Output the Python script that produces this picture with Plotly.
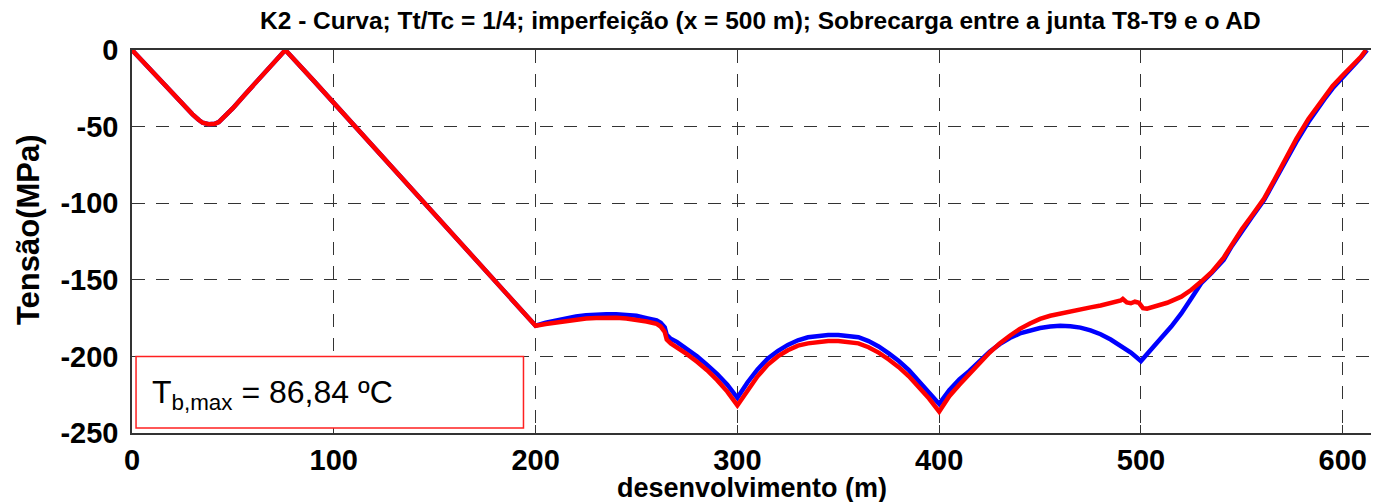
import plotly.graph_objects as go

# ---- data ----
x_common = [0, 5, 10, 15, 20, 25, 30, 33, 35, 38, 41, 43, 46, 50, 56, 61, 66, 71, 76,
            90, 100, 110, 120, 130, 140, 150, 160, 170, 180, 190, 200]
y_common = [0, -7, -14, -21.5, -28.5, -35.5, -42, -45.5, -47.5, -48.5, -48.2, -47, -43.5,
            -38, -29, -22, -14.5, -7, 0,
            -20, -34.5, -49, -63.5, -78, -92.5, -107, -121.5, -136, -151, -165.5, -180]

x_blue = [205, 210, 215, 220, 225, 230, 235, 240, 245, 250, 255, 260, 262, 264, 265, 267,
          270, 275, 280, 285, 290, 295, 300,
          305, 310, 315, 320, 325, 330, 335, 340, 345, 350, 355, 360, 365, 370, 375, 380,
          385, 390, 395, 400,
          405, 410, 415, 420, 425, 430, 435, 440, 445, 450, 455, 460, 465, 470, 475, 480,
          485, 490, 495, 500,
          505, 510, 515, 520, 525, 530, 535, 541, 545, 550, 555, 561, 566, 572, 577, 583,
          587, 591, 595, 600, 605, 609, 612]
y_blue = [-178, -176.5, -175, -174, -173.2, -172.7, -172.5, -172.5, -172.8, -173.5, -175,
          -176.5, -178, -181, -186, -188.5,
          -190.5, -195, -200, -205.5, -211.5, -218.5, -227,
          -217, -208.5, -201.5, -196.5, -192.5, -189.5, -187.5, -186.5, -186, -186, -186.5,
          -187.5, -190, -193.5, -198, -203, -209, -216, -223, -231,
          -222, -215, -209.5, -203, -197, -192, -188, -185, -183, -181.5, -180.5, -180,
          -180.3, -181.2, -183, -185.5, -189, -193, -197.5, -203,
          -195, -188, -180.5, -172, -162, -152, -145.5, -137, -128, -118, -109, -98, -86,
          -72, -60, -47, -39, -32, -25, -18, -11, -5, 0]

x_red = [205, 210, 215, 220, 225, 230, 235, 240, 245, 250, 255, 260, 262, 264, 265, 267,
         270, 275, 280, 285, 290, 295, 300,
         305, 310, 315, 320, 325, 330, 335, 340, 345, 350, 355, 360, 365, 370, 375, 380,
         385, 390, 395, 400,
         405, 410, 415, 420, 425, 430, 435, 440, 445, 450, 455, 460, 465, 470, 475, 480,
         485, 488, 490, 491, 493, 495, 497, 499, 501, 503, 507, 513, 520, 525, 530, 535,
         541, 545, 550, 555, 561, 566, 572, 577, 583, 587, 591, 595, 600, 605, 609, 611.5]
y_red = [-178.8, -177.8, -176.8, -176, -175.3, -175, -174.8, -174.8, -175.2, -176, -177.2,
         -178.8, -180.5, -184, -189, -191.5,
         -194, -198.5, -203.5, -209, -215.5, -223, -232,
         -222, -213, -205.5, -200, -196, -193, -191.5, -190.5, -190, -190, -190.5, -191.5,
         -194, -197.5, -202, -207, -213, -220, -227.5, -236,
         -226, -218.5, -211, -204.5, -197.5, -191.5, -186.5, -182, -178.5, -175.5, -173.5,
         -172, -170.5, -169.2, -168, -166.8,
         -165.5, -164.5, -163.5, -162.5, -164.8, -165.3, -164.3, -165, -168.5, -168.8,
         -167, -165, -161, -156.5, -151, -145,
         -135.5, -127, -117, -108, -97, -85, -70, -58, -45, -37.5, -30, -23.5, -16.5, -10,
         -4.5, 0]

x_ticks = [0, 100, 200, 300, 400, 500, 600]
y_ticks = [-250, -200, -150, -100, -50, 0]

title_text = "K2 - Curva; Tt/Tc = 1/4; imperfeição (x = 500 m); Sobrecarga entre a junta T8-T9 e o AD"
xlabel = "desenvolvimento (m)"
ylabel = "Tensão(MPa)"
box_text = "T<sub>b,max</sub> = 86,84 ºC"
box_x = [2, 194]
box_y = [-246.7, -200]

FONT = "Liberation Sans, Arial, Helvetica, sans-serif"

fig = go.Figure()
fig.add_trace(go.Scatter(x=x_common + x_blue, y=y_common + y_blue, mode="lines",
                         line=dict(color="#0000ff", width=4.5), showlegend=False))
fig.add_trace(go.Scatter(x=x_common + x_red, y=y_common + y_red, mode="lines",
                         line=dict(color="#ff0000", width=4.5), showlegend=False))

grid = dict(showgrid=True, gridcolor="#333333", gridwidth=1.4, griddash="13px,11px",
            zeroline=False, showline=True, linecolor="#333333", linewidth=1.5,
            ticks="inside", ticklen=8, tickcolor="#333333", tickwidth=1.4,
            tickfont=dict(family=FONT, size=29, color="black", weight="bold"))

fig.update_layout(
    width=1373, height=502,
    margin=dict(l=132, r=2, t=50, b=69),
    paper_bgcolor="white", plot_bgcolor="white",
    font=dict(family=FONT),
    xaxis=dict(range=[0, 614], tickvals=x_ticks, ticktext=[str(v) for v in x_ticks],
               mirror="allticks", ticklabelstandoff=0, **grid),
    yaxis=dict(range=[-250, 0], tickvals=y_ticks, ticktext=[str(v) for v in y_ticks],
               mirror=False, ticklabelstandoff=6, **grid),
    shapes=[dict(type="rect", xref="x", yref="y", x0=box_x[0], x1=box_x[1],
                 y0=box_y[0], y1=box_y[1], line=dict(color="#ff2020", width=1.5),
                 fillcolor="white", layer="above")],
    annotations=[
        dict(text=box_text, xref="x", yref="y", x=9, y=-225, xanchor="left",
             yanchor="middle", showarrow=False,
             font=dict(family=FONT, size=32, color="black")),
        dict(text=title_text, xref="paper", yref="paper", x=0.507, y=1.0, yshift=30,
             xanchor="center", yanchor="middle", showarrow=False,
             font=dict(family=FONT, size=24.5, color="black", weight="bold")),
        dict(text=xlabel, xref="paper", yref="paper", x=0.5, y=-0.143,
             xanchor="center", yanchor="middle", showarrow=False,
             font=dict(family=FONT, size=27, color="black", weight="bold")),
        dict(text=ylabel, xref="paper", yref="paper", x=-0.0839, y=0.53,
             xanchor="center", yanchor="middle", textangle=-90, showarrow=False,
             font=dict(family=FONT, size=31, color="black", weight="bold")),
    ],
)

fig.write_html("out.html")
